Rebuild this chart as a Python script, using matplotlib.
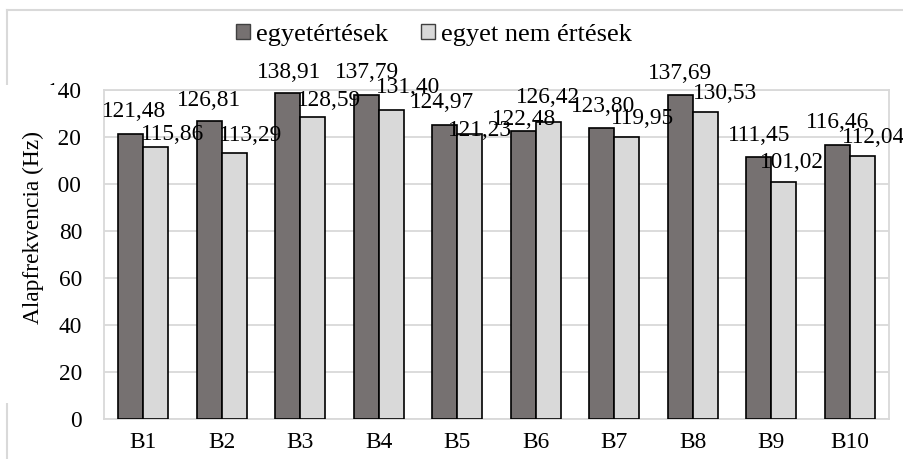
import matplotlib
matplotlib.use("Agg")
import matplotlib.pyplot as plt
from matplotlib.patches import Patch, Rectangle
from matplotlib.lines import Line2D
import numpy as np

categories = ["B1", "B2", "B3", "B4", "B5", "B6", "B7", "B8", "B9", "B10"]
agree = [121.48, 126.81, 138.91, 137.79, 124.97, 122.48, 123.80, 137.69, 111.45, 116.46]
disagree = [115.86, 113.29, 128.59, 131.40, 121.23, 126.42, 119.95, 130.53, 101.02, 112.04]
series_names = ["egyetértések", "egyet nem értések"]
yticks = [0, 20, 40, 60, 80, 100, 120, 140]

# data label nudges (pixels: dx, gap above bar top)
agree_nudge = [(3, 17), (0, 15), (1, 15), (1, 17.5), (-2.5, 17.4), (0.5, 6), (1, 15.7), (0, 16.3), (0, 16.3), (0, 17)]
disagree_nudge = [(16.7, 7), (16, 11.6), (16.4, 10.7), (16.3, 17.4), (10, -1.7), (0, 19), (16, 13.3), (20, 13), (8, 13.3), (11, 12.7)]

DARK = "#767171"
LIGHT = "#D9D9D9"
GRID = "#D9D9D9"
FS = 16.8
LFS = 19
plt.rcParams['font.family'] = ['Liberation Serif', 'DejaVu Serif']

W, H = 904, 459
fig = plt.figure(figsize=(W / 100, H / 100), dpi=100)
ax = fig.add_axes([104 / W, 1 - 419 / H, (889 - 104) / W, (419 - 90) / H])

x = np.arange(len(categories))
bw = 0.32
ax.bar(x - bw / 2, agree, bw, color=DARK, edgecolor="black", linewidth=1.2, zorder=3)
ax.bar(x + bw / 2, disagree, bw, color=LIGHT, edgecolor="black", linewidth=1.2, zorder=3)

ax.set_xlim(-0.5, len(categories) - 0.5)
ax.set_ylim(0, 140)
ax.set_yticks(yticks)
ax.set_yticklabels([str(t) for t in yticks], fontsize=FS)
ax.set_xticks(x)
ax.set_xticklabels(categories, fontsize=FS)
ax.tick_params(axis='both', length=0)
ax.tick_params(axis='y', pad=15.8)
ax.tick_params(axis='x', pad=9)
ax.grid(axis='y', color=GRID, linewidth=1.3, zorder=0)
ax.set_axisbelow(True)
for s in ax.spines.values():
    s.set_color(GRID)
    s.set_linewidth(1.3)

def fmt(v):
    return f"{v:.2f}".replace('.', ',')

for i in range(len(categories)):
    dx, gy = agree_nudge[i]
    ax.annotate(fmt(agree[i]), xy=(x[i] - bw / 2, agree[i]), xytext=(dx * 0.72, gy * 0.72),
                textcoords='offset points', ha='center', va='baseline', fontsize=FS,
                annotation_clip=False, zorder=5)
    dx, gy = disagree_nudge[i]
    ax.annotate(fmt(disagree[i]), xy=(x[i] + bw / 2, disagree[i]), xytext=(dx * 0.72, gy * 0.72),
                textcoords='offset points', ha='center', va='baseline', fontsize=FS,
                annotation_clip=False, zorder=5)

# outer chart border (left and top visible)
fig.add_artist(Line2D([7 / W, 7 / W], [0, 1 - 10 / H], transform=fig.transFigure,
                      color=GRID, linewidth=1.5, zorder=1))
fig.add_artist(Line2D([7 / W, 1], [1 - 10 / H, 1 - 10 / H], transform=fig.transFigure,
                      color=GRID, linewidth=1.5, zorder=1))

# y-axis title with its white box
fig.add_artist(Rectangle((0, 1 - 403 / H), 58 / W, (403 - 85) / H, transform=fig.transFigure,
                         facecolor="white", edgecolor="none", zorder=5))
fig.text(33 / W, 1 - 228 / H, "Alapfrekvencia (Hz)", rotation=90, ha='center', va='center',
         fontsize=FS, zorder=6)

handles = [Patch(facecolor=DARK, edgecolor="#404040", linewidth=1.0),
           Patch(facecolor=LIGHT, edgecolor="#404040", linewidth=1.0)]
fig.legend(handles, series_names, loc='center', bbox_to_anchor=(434 / W, 1 - 34.7 / H),
           ncol=2, frameon=False, fontsize=LFS, handlelength=0.53, handleheight=0.53,
           handletextpad=0.23, columnspacing=1.27, borderaxespad=0)

fig.savefig("out.png", dpi=100)
